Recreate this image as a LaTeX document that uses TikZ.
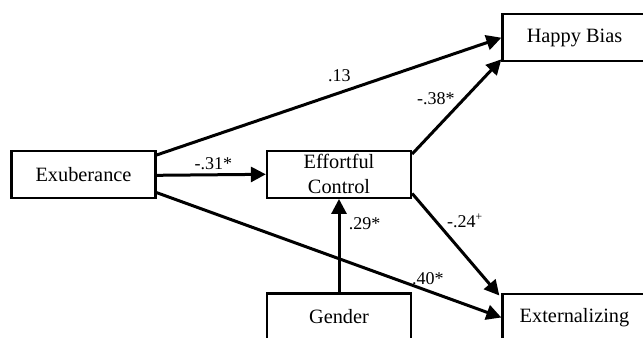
\documentclass[tikz,border=0pt]{standalone}
\usepackage{fontspec}
\setmainfont{Liberation Serif}
\usetikzlibrary{arrows.meta}
\usetikzlibrary{calc}

\tikzset{
  box/.style={draw, line width=1.4pt, minimum width=86.4pt, minimum height=28.2pt, inner sep=2pt,
    align=center, font=\fontsize{12.2}{15}\selectfont},
  path/.style={line width=1.8pt, -{Triangle[length=9pt, width=9pt]}},
  coef/.style={font=\fontsize{10.8}{12}\selectfont, inner sep=1pt}
}

\begin{document}
\begin{tikzpicture}[x=0.6pt, y=-0.6pt]
    \useasboundingbox (0,0) rectangle (643,337);
    \clip (0,0) rectangle (643,337);

    \node[box] (exub) at (83.5,174.3) {Exuberance};
    \node[box] (effort) at (339,174.3) {Effortful\\Control};
    \node[box] (happy) at (574.5,37.7) {Happy Bias};
    \node[box] (extern) at (574.5,317.5) {Externalizing};
    \node[box] (gender) at (339,317) {Gender};

    \draw[path] ([yshift=-3.2pt]exub.north east) -- (happy.west)
      node[coef, pos=.53, above=4.5pt] {.13};
    \draw[path] ([yshift=-0.6pt]exub.east) -- (effort.west)
      node[coef, pos=.52, above=1pt] {-.31*};
    \draw[path] ([yshift=3.8pt]exub.south east) -- (extern.west)
      node[coef, pos=.787, above=2pt] {.40*};
    \draw[path] ([yshift=-2.6pt]effort.north east) -- ([yshift=1.8pt]happy.south west)
      node[coef, pos=.586, left=4pt] {-.38*};
    \draw[path] ([yshift=3.3pt]effort.south east) -- ([xshift=-1.2pt,yshift=-1.6pt]extern.north west)
      node[coef, pos=.27, right=5pt] {-.24\textsuperscript{\scriptsize +}};
    \draw[path] (gender.north) -- (effort.south)
      node[coef, pos=.74, right=4pt] {.29*};
\end{tikzpicture}
\end{document}
